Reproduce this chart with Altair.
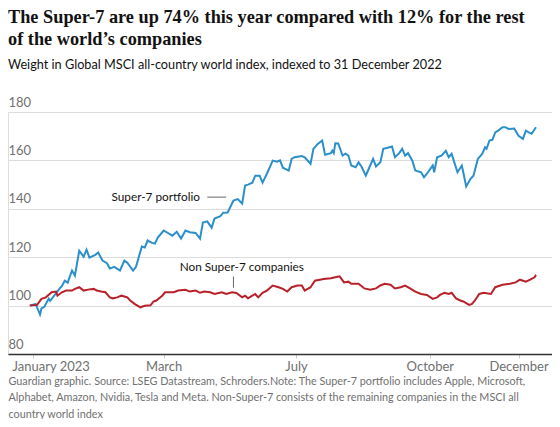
import altair as alt
import pandas as pd

# ---- data (day offset from 1 Jan 2023, index value) ----
blue_points = [
    (-2, 100), (2, 100.7), (5, 96.3), (6, 98.8), (8, 99.5), (11, 102.9), (12, 102),
    (19, 107.4), (20, 108), (22, 110.3), (24, 109.5), (27, 114.5), (29, 112.4),
    (32, 122.7), (35, 120.2), (37, 123.1), (39, 119.8), (43, 121), (45, 121.9),
    (48, 118.6), (51, 117.5), (53, 115.3), (56, 116), (60, 114.5), (63, 118.6),
    (65, 117.7), (69, 114.5), (71, 116), (75, 124.4), (77, 124), (79, 126.9),
    (82, 125.9), (84, 125.6), (86, 128.1), (90, 131), (93, 130), (96, 128.9),
    (99, 130.5), (102, 127.7), (105, 131), (108, 130.3), (112, 130), (115, 127.7),
    (117, 134.3), (120, 134.8), (123, 132.2), (125, 136), (129, 137), (131, 138.4),
    (134, 138.5), (138, 143.4), (141, 144), (144, 142.1), (146, 149.6), (148, 150),
    (151, 150.8), (153, 153.7), (156, 153.7), (158, 150.8), (161, 154.5),
    (165, 159.9), (168, 159.5), (170, 160), (172, 157), (176, 155.8), (178, 160.6),
    (180, 161.3), (185, 161.8), (187, 161.3), (191, 158.6), (193, 164.8),
    (196, 166.8), (199, 168.2), (201, 162.3), (205, 163), (206, 164), (207, 163),
    (208, 167.1), (210, 167), (213, 162), (215, 162.8), (217, 162), (219, 157.9),
    (222, 157.2), (224, 159.2), (226, 157.5), (229, 153.7), (232, 157.9),
    (234, 160.6), (236, 157.5), (239, 159.2), (241, 164.8), (244, 165.2),
    (247, 165.7), (249, 161.3), (252, 163), (254, 164.8), (256, 162), (258, 163),
    (261, 159.9), (263, 155.8), (267, 155.1), (269, 153), (271, 154.5),
    (275, 157.9), (276, 155.1), (278, 161.3), (281, 162), (284, 164), (286, 161.3),
    (288, 162.7), (292, 155.1), (295, 157.9), (296, 155.1), (298, 149.2),
    (301, 152.4), (303, 153.7), (306, 160.6), (309, 162.7), (311, 165.4),
    (312, 164.8), (314, 168.2), (316, 168.5), (318, 171.6), (320, 172.3),
    (323, 173.7), (325, 173.7), (327, 173), (331, 173.2), (334, 170.2),
    (337, 168.9), (339, 172.3), (341, 171.6), (343, 171), (346, 173.7),
]

red_points = [
    (-2, 100), (3, 100.3), (6, 102.8), (9, 103.4), (13, 105.5), (16, 105.8),
    (17, 104.1), (20, 105.5), (23, 106.2), (27, 106.2), (29, 106.9), (32, 107.6),
    (35, 106.2), (38, 106.6), (42, 106.9), (44, 106.2), (47, 105.8), (50, 105.5),
    (53, 103.4), (55, 103), (58, 103.4), (61, 104.1), (65, 103.4), (67, 102.1),
    (70, 100.7), (74, 99.3), (77, 99.9), (81, 100.1), (83, 101.7), (85, 102.1),
    (89, 104.1), (91, 105.5), (97, 105.5), (100, 106.2), (105, 106.5), (108, 105.8),
    (112, 106.2), (115, 105.3), (118, 105.8), (122, 105.5), (125, 104.8),
    (130, 105.5), (133, 104.8), (137, 105.5), (140, 105.2), (144, 103.4),
    (146, 104.1), (148, 103), (151, 104.1), (153, 104.8), (155, 103.4),
    (158, 105.3), (161, 106.2), (165, 108.3), (169, 107.6), (172, 106.9),
    (175, 105.8), (178, 107.6), (182, 108.3), (185, 108.3), (187, 106.2),
    (191, 107.6), (194, 110.3), (200, 111), (205, 111.3), (208, 111.7),
    (211, 112.1), (214, 109.6), (217, 109.9), (219, 109), (224, 109), (228, 107.1),
    (232, 106.6), (236, 107.1), (239, 108.3), (242, 109), (246, 108.6),
    (249, 107.1), (253, 107.6), (256, 108.3), (260, 106.9), (263, 105.8),
    (267, 104.8), (271, 104.4), (275, 102.8), (278, 103.4), (280, 104.4),
    (283, 105.3), (286, 104.8), (288, 105.3), (291, 103), (294, 102.1),
    (296, 101.7), (300, 100.3), (302, 100.7), (304, 102.1), (307, 104.8),
    (310, 105.3), (315, 104.8), (318, 107.6), (323, 108.6), (328, 109),
    (332, 109.6), (335, 110.7), (339, 109.9), (342, 110.7), (345, 111.7),
    (346, 112.7),
]

tick_dates = ["2023-01-01", "2023-04-01", "2023-07-01", "2023-10-01", "2023-12-01"]
tick_labels = ["January 2023", "March", "July", "October", "December"]
y_ticks = [80, 100, 120, 140, 160, 180]

title_lines = ["The Super-7 are up 74% this year compared with 12% for the rest",
               "of the world\u2019s companies"]
subtitle = "Weight in Global MSCI all-country world index, indexed to 31 December 2022"
footer_lines = [
    "Guardian graphic. Source: LSEG Datastream, Schroders.Note: The Super-7 portfolio includes Apple, Microsoft,",
    "Alphabet, Amazon, Nvidia, Tesla and Meta. Non-Super-7 consists of the remaining companies in the MSCI all",
    "country world index",
]

# annotations (day offset, value)
super_label = {"day": 115, "value": 145.0, "text": "Super-7 portfolio"}
super_leader = {"day": 120, "day2": 133, "value": 144.8}
non_label = {"day": 101, "value": 115.8, "text": "Non Super-7 companies"}
non_leader = {"day": 138, "value": 107.4, "value2": 112.0}

BLUE = "#2a8fca"
RED = "#b8202a"
GREY = "#707070"
SANS = "Lato"

base = pd.Timestamp("2023-01-01")


def to_date(d):
    return base + pd.Timedelta(days=d)


blue_df = pd.DataFrame({"date": [to_date(d) for d, _ in blue_points],
                        "value": [v for _, v in blue_points]})
red_df = pd.DataFrame({"date": [to_date(d) for d, _ in red_points],
                       "value": [v for _, v in red_points]})

label_expr = " : ".join(
    f"month(datum.value) == {pd.Timestamp(d).month - 1} ? '{lab}'"
    for d, lab in zip(tick_dates[:-1], tick_labels[:-1])
) + f" : '{tick_labels[-1]}'"

tick_values = [alt.DateTime(year=pd.Timestamp(d).year, month=pd.Timestamp(d).month,
                            date=pd.Timestamp(d).day) for d in tick_dates]

x_scale = alt.Scale(domain=[alt.DateTime(year=2022, month=12, date=15),
                            alt.DateTime(year=2023, month=12, date=24)])
y_scale = alt.Scale(domain=[80, 180], nice=False, zero=False)

x_axis = alt.Axis(
    values=tick_values, labelExpr=label_expr, grid=False,
    domainColor="#333333", domainWidth=1.5, tickColor="#cccccc", tickSize=4,
    labelPadding=2, labelColor=GREY, labelFont=SANS, labelFontSize=13,
    labelFlush=False, labelOverlap=False,
    labelOffset={"condition": {"test": "month(datum.value) == 0", "value": 18}, "value": 0},
    title=footer_lines, titleAnchor="start", titleAlign="left", titleBaseline="top",
    titleFont=SANS, titleFontSize=10.8, titleFontWeight="normal", titleColor=GREY,
    titleLineHeight=16.5, titlePadding=2,
)
y_axis = alt.Axis(
    values=y_ticks, domain=False, ticks=False, tickSize=0, grid=True,
    gridColor="#dcdcdc", gridWidth=1, labelAlign="left", labelBaseline="bottom",
    labelPadding=0, labelOffset=-3, labelColor=GREY, labelFont=SANS,
    labelFontSize=13, title=None,
)

blue_line = alt.Chart(blue_df).mark_line(color=BLUE, strokeWidth=2).encode(
    x=alt.X("date:T", scale=x_scale, axis=x_axis),
    y=alt.Y("value:Q", scale=y_scale, axis=y_axis),
)
red_line = alt.Chart(red_df).mark_line(color=RED, strokeWidth=2).encode(
    x="date:T", y="value:Q",
)

sl = pd.DataFrame([{"date": to_date(super_label["day"]), "value": super_label["value"],
                    "text": super_label["text"]}])
sup_text = alt.Chart(sl).mark_text(align="right", baseline="middle", font=SANS,
                                   fontSize=11.8, color="#121212").encode(
    x="date:T", y="value:Q", text="text:N")

sld = pd.DataFrame([{"date": to_date(super_leader["day"]),
                     "date2": to_date(super_leader["day2"]),
                     "value": super_leader["value"]}])
sup_rule = alt.Chart(sld).mark_rule(color="#999999", strokeWidth=1.5).encode(
    x="date:T", x2="date2:T", y="value:Q")

nl = pd.DataFrame([{"date": to_date(non_label["day"]), "value": non_label["value"],
                    "text": non_label["text"]}])
non_text = alt.Chart(nl).mark_text(align="left", baseline="middle", font=SANS,
                                   fontSize=11.8, color="#121212").encode(
    x="date:T", y="value:Q", text="text:N")

nld = pd.DataFrame([{"date": to_date(non_leader["day"]), "value": non_leader["value"],
                     "value2": non_leader["value2"]}])
non_rule = alt.Chart(nld).mark_rule(color="#666666", strokeWidth=1).encode(
    x="date:T", y="value:Q", y2="value2:Q")

chart = alt.layer(
    blue_line, red_line, sup_rule, sup_text, non_rule, non_text
).properties(
    width=544, height=242,
    padding={"left": 0, "top": 0, "right": 0, "bottom": 0},
    title=alt.TitleParams(
        text=title_lines, subtitle=subtitle, anchor="start",
        font="Liberation Serif", fontSize=18.3, fontWeight="bold", color="#121212",
        lineHeight=22, subtitleFont=SANS, subtitleFontSize=12.7,
        subtitleColor="#121212", subtitlePadding=10, offset=23,
    ),
).configure_view(stroke=None).configure(background="white")

chart.save("out.html", embed_options={"renderer": "svg", "actions": False})
